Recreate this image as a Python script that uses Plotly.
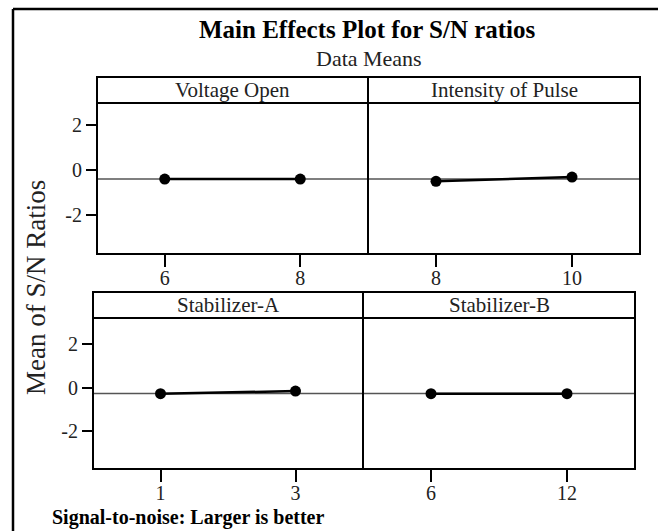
import plotly.graph_objects as go

# ---------------- data ----------------
factors = ["Voltage Open", "Intensity of Pulse", "Stabilizer-A", "Stabilizer-B"]
levels_voltage = ["6", "8"]
levels_intensity = ["8", "10"]
levels_stab_a = ["1", "3"]
levels_stab_b = ["6", "12"]
sn_voltage = [-0.40, -0.40]
sn_intensity = [-0.50, -0.31]
sn_stab_a = [-0.27, -0.15]
sn_stab_b = [-0.27, -0.27]
overall_mean_top = -0.40
overall_mean_bottom = -0.26
y_ticks = [-2, 0, 2]
y_range_top = [-3.7, 2.95]
y_range_bottom = [-3.73, 3.21]

levels = [levels_voltage, levels_intensity, levels_stab_a, levels_stab_b]
values = [sn_voltage, sn_intensity, sn_stab_a, sn_stab_b]
means = [overall_mean_top, overall_mean_top, overall_mean_bottom, overall_mean_bottom]

W, H = 658, 531
FONT = "Liberation Serif"


def px(x):
    return x / W


def py(y):
    return 1 - y / H


# panel pixel boxes (left, right, top, bottom) and header heights
panels = [
    (97, 368, 103, 254),
    (368, 640, 103, 254),
    (93, 363, 318, 469),
    (363, 635, 318, 469),
]
header_h = 26

fig = go.Figure()
layout_axes = {}
shapes = []
annotations = []

for i, (lv, vals, m, (l, r, t, b)) in enumerate(zip(levels, values, means, panels)):
    n = i + 1
    xa = "x" if n == 1 else f"x{n}"
    ya = "y" if n == 1 else f"y{n}"
    fig.add_trace(go.Scatter(
        x=lv, y=vals, xaxis=xa, yaxis=ya, mode="lines+markers",
        line=dict(color="black", width=2.5),
        marker=dict(color="black", size=11),
        showlegend=False, hoverinfo="skip", cliponaxis=False,
    ))
    yr = y_range_top if n <= 2 else y_range_bottom
    xkey = "xaxis" if n == 1 else f"xaxis{n}"
    ykey = "yaxis" if n == 1 else f"yaxis{n}"
    layout_axes[xkey] = dict(
        domain=[px(l), px(r)], anchor=ya, type="category",
        categoryorder="array", categoryarray=lv,
        range=[-0.5, 1.5], showgrid=False, zeroline=False,
        showline=False,
        ticks="outside", ticklen=12, tickwidth=2, tickcolor="black",
        ticklabelstandoff=-6,
        tickfont=dict(family=FONT, size=20, color="#222"),
        fixedrange=True,
    )
    left_panel = n in (1, 3)
    layout_axes[ykey] = dict(
        domain=[py(b), py(t)], anchor=xa, range=yr,
        tickvals=y_ticks, ticktext=[str(v) for v in y_ticks],
        showgrid=False, zeroline=False, showline=False,
        ticks="outside" if left_panel else "", ticklen=10, tickwidth=2,
        tickcolor="black", showticklabels=left_panel,
        tickfont=dict(family=FONT, size=20, color="#222"),
        fixedrange=True,
    )
    # overall mean reference line
    shapes.append(dict(
        type="line", xref=f"{xa} domain", yref=ya,
        x0=0, x1=1, y0=m, y1=m,
        line=dict(color="#555555", width=1.5), layer="below",
    ))
    # panel frame
    shapes.append(dict(
        type="rect", xref="paper", yref="paper",
        x0=px(l), x1=px(r), y0=py(b), y1=py(t),
        line=dict(color="black", width=2), layer="above",
    ))
    # header box
    shapes.append(dict(
        type="rect", xref="paper", yref="paper",
        x0=px(l), x1=px(r), y0=py(t), y1=py(t - header_h),
        line=dict(color="black", width=2), fillcolor="white",
    ))
    annotations.append(dict(
        x=px((l + r) / 2), y=py(t - header_h / 2), xref="paper", yref="paper",
        text=factors[i], showarrow=False, xanchor="center", yanchor="middle",
        font=dict(family=FONT, size=21, color="#222"),
    ))

# outer frame (left and top)
shapes.append(dict(type="line", xref="paper", yref="paper",
                   x0=px(13), x1=px(13), y0=py(9), y1=0,
                   line=dict(color="black", width=2.5)))
shapes.append(dict(type="line", xref="paper", yref="paper",
                   x0=px(13), x1=1, y0=py(9), y1=py(9),
                   line=dict(color="black", width=2.5)))

annotations += [
    dict(x=px(367), y=py(29), xref="paper", yref="paper",
         text="<b>Main Effects Plot for S/N ratios</b>", showarrow=False,
         xanchor="center", yanchor="middle",
         font=dict(family=FONT, size=25, color="black")),
    dict(x=px(369), y=py(58), xref="paper", yref="paper",
         text="Data Means", showarrow=False,
         xanchor="center", yanchor="middle",
         font=dict(family=FONT, size=22, color="#222")),
    dict(x=px(36), y=py(288), xref="paper", yref="paper",
         text="Mean of S/N Ratios", showarrow=False, textangle=-90,
         xanchor="center", yanchor="middle",
         font=dict(family=FONT, size=27, color="#222")),
    dict(x=px(50), y=py(517), xref="paper", yref="paper",
         text="<b>Signal-to-noise: Larger is better</b>", showarrow=False,
         xanchor="left", yanchor="middle",
         font=dict(family=FONT, size=20, color="black")),
]

fig.update_layout(
    width=W, height=H,
    margin=dict(l=0, r=0, t=0, b=0),
    paper_bgcolor="white", plot_bgcolor="white",
    shapes=shapes, annotations=annotations,
    showlegend=False,
    **layout_axes,
)

fig.write_html("out.html", config={"displayModeBar": False},
               post_script="document.body.style.margin='0';document.body.style.overflow='hidden';")
